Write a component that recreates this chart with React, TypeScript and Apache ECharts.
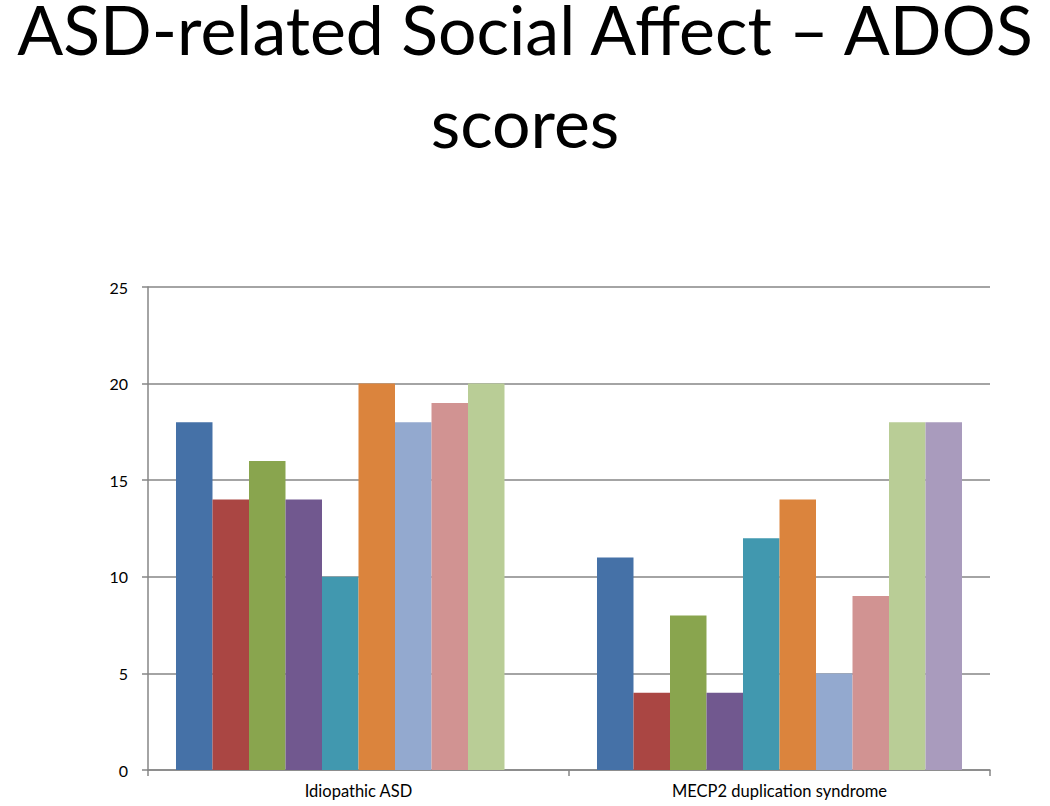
import React, { useEffect, useRef } from "react";
import * as echarts from "echarts";

const titleLines = ["ASD-related Social Affect \u2013 ADOS", "scores"];
const categories = ["Idiopathic ASD", "MECP2 duplication syndrome"];
const s1 = [18, 11];
const s2 = [14, 4];
const s3 = [16, 8];
const s4 = [14, 4];
const s5 = [10, 12];
const s6 = [20, 14];
const s7 = [18, 5];
const s8 = [19, 9];
const s9 = [20, 18];
const s10 = [null, 18];
const seriesData = [s1, s2, s3, s4, s5, s6, s7, s8, s9, s10];
const colors = ["#4571A7", "#AA4643", "#89A54E", "#71588F", "#4198AF", "#DB843D", "#93A9CF", "#D19392", "#B9CD96", "#A99BBD"];

export default function App() {
  const ref = useRef<HTMLDivElement>(null);
  useEffect(() => {
    const chart = echarts.init(ref.current!, null, { renderer: "svg" });
    const titleStyle = {
      fontFamily: "Lato",
      fontWeight: "normal",
      fontSize: 68,
      lineHeight: 56,
      color: "#000",
    };
    chart.setOption({
      animation: false,
      title: [
        { text: titleLines[0], left: "center", top: 0, padding: 0, textStyle: titleStyle },
        { text: titleLines[1], left: "center", top: 93, padding: 0, textStyle: titleStyle },
      ],
      grid: { left: 148, right: 60, top: 287, bottom: 36 },
      xAxis: {
        type: "category",
        data: categories,
        axisLine: { lineStyle: { color: "#868686", width: 1.5 } },
        axisTick: { show: true, length: 6, lineStyle: { color: "#868686", width: 1.5 } },
        axisLabel: { fontSize: 16.5, color: "#000", margin: 12, fontFamily: "Lato" },
      },
      yAxis: {
        type: "value",
        min: 0,
        max: 25,
        interval: 5,
        axisLine: { show: true, lineStyle: { color: "#868686", width: 1.5 } },
        axisTick: { show: true, length: 6, lineStyle: { color: "#868686", width: 1.5 } },
        axisLabel: { fontSize: 16, color: "#000", margin: 20, fontFamily: "Lato" },
        splitLine: { lineStyle: { color: "#868686", width: 1.5 } },
      },
      series: seriesData.map((d, i) => ({
        type: "bar",
        data: d,
        barGap: "0%",
        barCategoryGap: "13.3%",
        itemStyle: { color: colors[i] },
      })),
    });
    return () => chart.dispose();
  }, []);
  return <div ref={ref} style={{ position: "absolute", left: 0, top: 0, width: 1050, height: 806 }} />;
}
